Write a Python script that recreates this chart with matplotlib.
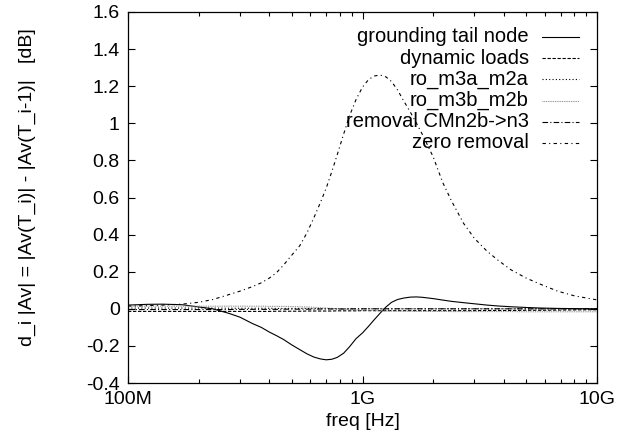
import matplotlib
matplotlib.use("Agg")
import matplotlib.pyplot as plt
from matplotlib.ticker import FixedLocator, FixedFormatter, LogLocator, NullFormatter

plt.rcParams['font.family'] = ['Liberation Sans', 'DejaVu Sans']

freq_ghz = [0.1, 0.12, 0.14, 0.17, 0.2, 0.23, 0.27, 0.3, 0.34, 0.37, 0.4, 0.43, 0.46,
            0.5, 0.54, 0.58, 0.62, 0.66, 0.7, 0.74, 0.78, 0.83, 0.88, 0.94, 1.0, 1.06,
            1.12, 1.19, 1.26, 1.33, 1.41, 1.5, 1.6, 1.7, 1.8, 2.0, 2.2, 2.4, 2.7, 3.0,
            3.4, 3.8, 4.3, 5.0, 5.8, 6.8, 8.0, 10.0]

grounding_tail = [0.02, 0.024, 0.025, 0.022, 0.01, 0.0, -0.025, -0.045, -0.08, -0.1,
                  -0.125, -0.145, -0.165, -0.195, -0.22, -0.243, -0.26, -0.27, -0.275,
                  -0.272, -0.262, -0.24, -0.205, -0.16, -0.13, -0.095, -0.06, -0.023,
                  0.01, 0.035, 0.05, 0.058, 0.063, 0.064, 0.062, 0.055, 0.047, 0.04,
                  0.033, 0.027, 0.02, 0.015, 0.011, 0.007, 0.004, 0.002, 0.001, 0.0]

dynamic_loads = [-0.014, -0.014, -0.014, -0.014, -0.014, -0.014, -0.014, -0.014, -0.014,
                 -0.014, -0.014, -0.013, -0.013, -0.013, -0.013, -0.012, -0.012, -0.012,
                 -0.012, -0.012, -0.011, -0.011, -0.011, -0.011, -0.010, -0.010, -0.010,
                 -0.010, -0.010, -0.010, -0.010, -0.010, -0.010, -0.010, -0.010, -0.010,
                 -0.010, -0.010, -0.010, -0.010, -0.009, -0.009, -0.009, -0.008, -0.008,
                 -0.007, -0.006, -0.005]

ro_m3a_m2a = [0.004, 0.004, 0.004, 0.004, 0.004, 0.004, 0.003, 0.003, 0.003, 0.003,
              0.003, 0.002, 0.002, 0.002, 0.002, 0.002, 0.001, 0.001, 0.001, 0.001,
              0.001, 0.0, 0.0, 0.0, 0.0, 0.0, 0.0, 0.0, 0.0, 0.0, 0.0, 0.0, 0.0, 0.0,
              0.0, 0.0, 0.0, 0.0, 0.0, 0.0, 0.0, 0.0, 0.0, 0.0, 0.0, 0.0, 0.0, 0.0]

ro_m3b_m2b = [0.014, 0.014, 0.014, 0.014, 0.014, 0.014, 0.014, 0.014, 0.014, 0.014,
              0.013, 0.013, 0.013, 0.012, 0.011, 0.010, 0.008, 0.006, 0.004, 0.002,
              0.0, -0.002, -0.004, -0.006, -0.008, -0.009, -0.010, -0.011, -0.012,
              -0.012, -0.013, -0.013, -0.013, -0.014, -0.014, -0.014, -0.014, -0.015,
              -0.015, -0.015, -0.015, -0.015, -0.015, -0.016, -0.016, -0.016, -0.016,
              -0.016]

removal_cmn2b = [-0.004, -0.004, -0.004, -0.004, -0.004, -0.004, -0.004, -0.003, -0.003,
                 -0.003, -0.003, -0.003, -0.002, -0.002, -0.002, -0.002, -0.002, -0.001,
                 -0.001, -0.001, -0.001, -0.001, 0.0, 0.0, 0.0, 0.0, 0.0, 0.0, 0.0, 0.0,
                 0.0, 0.0, 0.0, 0.0, 0.0, 0.0, 0.0, 0.0, 0.0, 0.0, 0.0, 0.0, 0.0, 0.0,
                 0.0, 0.0, 0.0, 0.0]

zero_removal = [0.015, 0.017, 0.02, 0.025, 0.035, 0.05, 0.077, 0.095, 0.12, 0.14, 0.165,
                0.195, 0.235, 0.29, 0.34, 0.41, 0.49, 0.57, 0.65, 0.74, 0.83, 0.94,
                1.04, 1.13, 1.195, 1.235, 1.255, 1.26, 1.25, 1.225, 1.18, 1.12, 1.06,
                1.0, 0.94, 0.82, 0.68, 0.58, 0.46, 0.38, 0.31, 0.26, 0.21, 0.165, 0.13,
                0.095, 0.07, 0.048]

labels = ["grounding tail node", "dynamic loads", "ro_m3a_m2a", "ro_m3b_m2b",
          "removal CMn2b->n3", "zero removal"]

x_tick_vals = [1e8, 1e9, 1e10]
x_tick_labels = ["100M", "1G", "10G"]
y_tick_vals = [-0.4, -0.2, 0, 0.2, 0.4, 0.6, 0.8, 1, 1.2, 1.4, 1.6]
y_tick_labels = ["-0.4", "-0.2", "0", "0.2", "0.4", "0.6", "0.8", "1", "1.2", "1.4", "1.6"]

freq_hz = [f * 1e9 for f in freq_ghz]

fig = plt.figure(figsize=(6.3, 4.45), dpi=100)
ax = fig.add_axes([128/630, 1 - 383/445, 469/630, 371/445])

series = [grounding_tail, dynamic_loads, ro_m3a_m2a, ro_m3b_m2b, removal_cmn2b, zero_removal]
styles = [
    dict(color='black', linestyle='-'),
    dict(color='black', linestyle=(0, (3, 1.5))),
    dict(color='black', linestyle=(0, (1, 2))),
    dict(color='#888888', linestyle=(0, (0.8, 0.8))),
    dict(color='black', linestyle=(0, (5, 2, 1, 2))),
    dict(color='black', linestyle=(0, (3, 3, 1, 3))),
]

for vals, st in zip(series, styles):
    ax.plot(freq_hz, vals, linewidth=0.8, **st)

ax.set_xscale('log')
ax.set_xlim(1e8, 1e10)
ax.set_ylim(-0.4, 1.6)

ax.xaxis.set_major_locator(FixedLocator(x_tick_vals))
ax.xaxis.set_major_formatter(FixedFormatter(x_tick_labels))
ax.xaxis.set_minor_locator(LogLocator(base=10, subs=range(2, 10)))
ax.xaxis.set_minor_formatter(NullFormatter())
ax.yaxis.set_major_locator(FixedLocator(y_tick_vals))
ax.yaxis.set_major_formatter(FixedFormatter(y_tick_labels))

ax.tick_params(which='both', direction='in', top=True, right=True, labelsize=14,
               width=0.8, colors='black')
ax.tick_params(which='major', length=5, pad=6)
ax.tick_params(which='minor', length=3)
for s in ax.spines.values():
    s.set_linewidth(0.9)

ax.set_xlabel("freq [Hz]", fontsize=14, labelpad=3)
ax.set_ylabel("d_i |Av| = |Av(T_i)| - |Av(T_i-1)|   [dB]", fontsize=14, va='center')
ax.yaxis.set_label_coords(-0.215, 0.528)

# legend drawn gnuplot-style: right-justified text, sample to the right
y0 = (383 - 37) / 371
dy = 21.2 / 371
for i, (lab, st) in enumerate(zip(labels, styles)):
    yy = y0 - i * dy
    ax.text(0.855, yy, lab, transform=ax.transAxes, ha='right', va='center', fontsize=14.5)
    ax.plot([0.883, 0.962], [yy, yy], transform=ax.transAxes, linewidth=0.8, **st)

fig.savefig("out.png", dpi=100)
